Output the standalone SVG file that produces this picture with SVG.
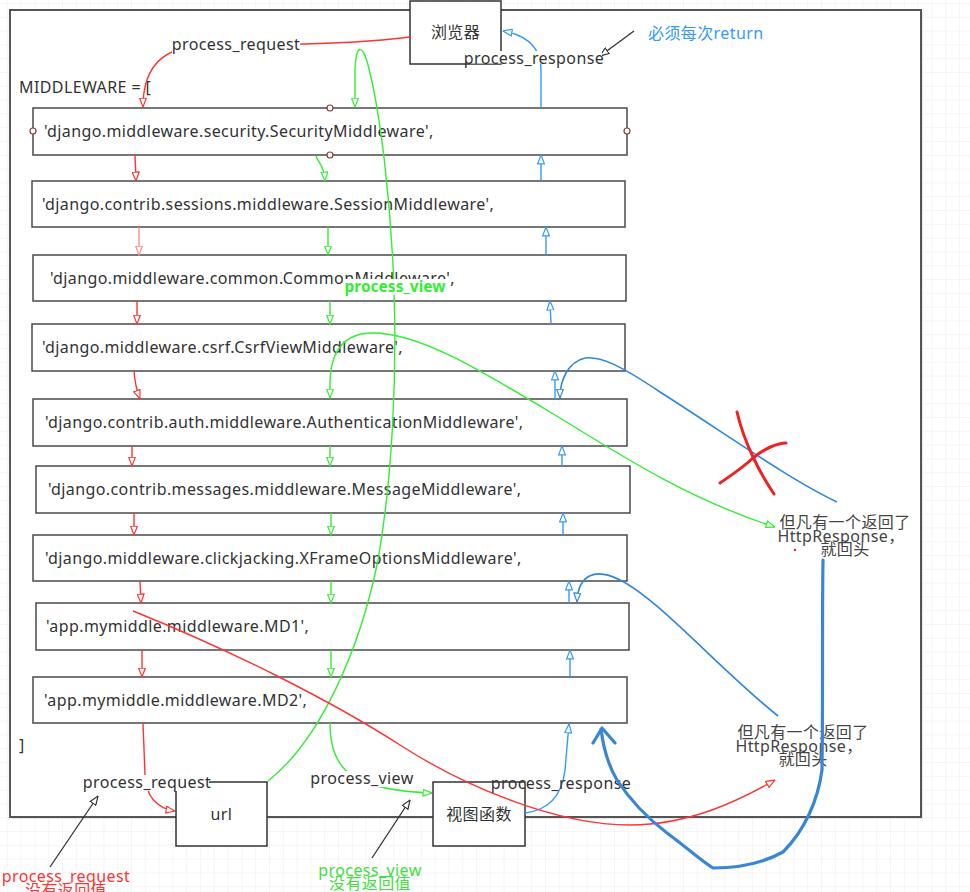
<svg xmlns="http://www.w3.org/2000/svg" width="970" height="892" viewBox="0 0 970 892">
<defs>
<pattern id="gridp" patternUnits="userSpaceOnUse" x="6.8" y="3" width="13.8" height="13.8">
<path d="M0,0 H13.8 M0,0 V13.8" fill="none" stroke="#ececec" stroke-width="1"/>
</pattern>
<marker id="aR" viewBox="0 0 10 8" refX="9.5" refY="4" markerWidth="10" markerHeight="8" markerUnits="userSpaceOnUse" orient="auto"><path d="M0.6,0.6 L9.4,4 L0.6,7.4 Z" fill="#fff" stroke="#ff3333" stroke-width="1.2"/></marker>
<marker id="aRl" viewBox="0 0 10 8" refX="9.5" refY="4" markerWidth="10" markerHeight="8" markerUnits="userSpaceOnUse" orient="auto"><path d="M0.6,0.6 L9.4,4 L0.6,7.4 Z" fill="#fff" stroke="#ff8a8a" stroke-width="1.2"/></marker>
<marker id="aG" viewBox="0 0 10 8" refX="9.5" refY="4" markerWidth="10" markerHeight="8" markerUnits="userSpaceOnUse" orient="auto"><path d="M0.6,0.6 L9.4,4 L0.6,7.4 Z" fill="#fff" stroke="#33ee33" stroke-width="1.2"/></marker>
<marker id="aGs" viewBox="0 0 10 8" refX="9.5" refY="4" markerWidth="10" markerHeight="8" markerUnits="userSpaceOnUse" orient="auto-start-reverse"><path d="M0.6,0.6 L9.4,4 L0.6,7.4 Z" fill="#fff" stroke="#33ee33" stroke-width="1.2"/></marker>
<marker id="aB" viewBox="0 0 10 8" refX="9.5" refY="4" markerWidth="10" markerHeight="8" markerUnits="userSpaceOnUse" orient="auto"><path d="M0.6,0.6 L9.4,4 L0.6,7.4 Z" fill="#fff" stroke="#3399ff" stroke-width="1.2"/></marker>
<marker id="aB2" viewBox="0 0 10 8" refX="9.5" refY="4" markerWidth="10" markerHeight="8" markerUnits="userSpaceOnUse" orient="auto"><path d="M0.6,0.6 L9.4,4 L0.6,7.4 Z" fill="#fff" stroke="#2e86de" stroke-width="1.2"/></marker>
<marker id="aK" viewBox="0 0 10 8" refX="9.5" refY="4" markerWidth="10" markerHeight="8" markerUnits="userSpaceOnUse" orient="auto"><path d="M0.6,0.6 L9.4,4 L0.6,7.4 Z" fill="#fff" stroke="#333" stroke-width="1.2"/></marker>
</defs>
<style>
text{font-family:"Noto Sans","Noto Sans CJK SC",sans-serif;font-size:16px;letter-spacing:0.4px;fill:#333}
.row{fill:#fff;stroke:#4a4a4a;stroke-width:1.5}
.box{fill:#fff;stroke:#333;stroke-width:1.5}
.mid{text-anchor:middle}
.r{fill:none;stroke:#ff3333;stroke-width:1.4}
.rl{fill:none;stroke:#ff8a8a;stroke-width:1.4}
.g{fill:none;stroke:#33ee33;stroke-width:1.4}
.b{fill:none;stroke:#3399ff;stroke-width:1.4}
.b2{fill:none;stroke:#2e86de;stroke-width:1.6}
.k{fill:none;stroke:#333;stroke-width:1.3}
.hand{fill:none;stroke:#3a85d4;stroke-width:3.2;stroke-linecap:round;stroke-linejoin:round}
.x{fill:none;stroke:#ee2222;stroke-width:3;stroke-linecap:round;stroke-linejoin:round}
.lbg{fill:#fff}
.handle{fill:#fff;stroke:#8b3a3a;stroke-width:1.2}
.note{fill:#444;text-anchor:middle}
</style>
<rect id="grid" x="0" y="0" width="970" height="892" fill="url(#gridp)"/>
<g id="frame">
<rect x="11.5" y="11.5" width="911" height="807" fill="#aaa" opacity="0.5"/>
<rect x="10" y="10" width="911" height="807" fill="#fff" stroke="#555" stroke-width="2"/>
<text x="19" y="93">MIDDLEWARE = [</text>
<text x="19" y="751">]</text>
</g>
<g id="row1"><rect class="row" x="33" y="108" width="594" height="47"/><text x="44" y="137">'django.middleware.security.SecurityMiddleware',</text></g>
<g id="row2"><rect class="row" x="32" y="181" width="593" height="46"/><text x="42" y="210">'django.contrib.sessions.middleware.SessionMiddleware',</text></g>
<g id="row3"><rect class="row" x="33" y="255" width="593" height="46"/><text x="50" y="284">'django.middleware.common.CommonMiddleware',</text></g>
<g id="row4"><rect class="row" x="32" y="324" width="593" height="47"/><text x="42" y="353">'django.middleware.csrf.CsrfViewMiddleware',</text></g>
<g id="row5"><rect class="row" x="33" y="399" width="594" height="47"/><text x="45" y="428">'django.contrib.auth.middleware.AuthenticationMiddleware',</text></g>
<g id="row6"><rect class="row" x="36" y="466" width="594" height="47"/><text x="48" y="495">'django.contrib.messages.middleware.MessageMiddleware',</text></g>
<g id="row7"><rect class="row" x="33" y="535" width="594" height="46"/><text x="45" y="564">'django.middleware.clickjacking.XFrameOptionsMiddleware',</text></g>
<g id="row8"><rect class="row" x="36" y="603" width="593" height="47"/><text x="46" y="632">'app.mymiddle.middleware.MD1',</text></g>
<g id="row9"><rect class="row" x="33" y="677" width="594" height="46"/><text x="44" y="706">'app.mymiddle.middleware.MD2',</text></g>
<g id="url"><rect class="box" x="176" y="782" width="91" height="64"/><text class="mid" x="221.5" y="820">url</text></g>
<g id="view"><rect class="box" x="433" y="782" width="92" height="64"/><text class="mid" x="479" y="820">视图函数</text></g>
<g id="browser"><rect class="box" x="410" y="1" width="91" height="63"/><text class="mid" x="455.5" y="38">浏览器</text></g>
<g id="connectors">
<path class="r" d="M410,37 C330,47 220,44 190,47 C155,52 143,75 143,107" marker-end="url(#aR)"/>
<path class="g" d="M268,781 C320,740 360,650 378,560 C392,480 397,380 394,290 C391,200 380,110 368,65 C362,42 356,45 355,70 L355,107" marker-end="url(#aG)"/>
<path class="b" d="M541,108 L541,70 C541,50 530,36 503,31" marker-end="url(#aB)"/>
<line class="r" x1="135" y1="155" x2="136" y2="181" marker-end="url(#aR)"/>
<line class="rl" x1="139" y1="227" x2="139" y2="255" marker-end="url(#aRl)"/>
<line class="r" x1="137" y1="301" x2="137" y2="324" marker-end="url(#aR)"/>
<path class="r" d="M134,371 Q135,386 140,399" marker-end="url(#aR)"/>
<line class="r" x1="132" y1="446" x2="132" y2="466" marker-end="url(#aR)"/>
<line class="r" x1="134" y1="513" x2="134" y2="535" marker-end="url(#aR)"/>
<line class="r" x1="140" y1="581" x2="141" y2="603" marker-end="url(#aR)"/>
<line class="r" x1="142" y1="650" x2="142" y2="677" marker-end="url(#aR)"/>
<path class="g" d="M316,156 C318,163 324,164 325,181" marker-end="url(#aG)"/>
<line class="g" x1="328" y1="227" x2="328" y2="255" marker-end="url(#aG)"/>
<line class="g" x1="330" y1="301" x2="330" y2="324" marker-end="url(#aG)"/>
<path class="g" d="M330,398 L330,385 C330,350 345,333 373,333 C420,333 480,370 560,418 C620,455 690,500 775,527" marker-start="url(#aGs)" marker-end="url(#aG)"/>
<line class="g" x1="330" y1="446" x2="330" y2="466" marker-end="url(#aG)"/>
<line class="g" x1="331" y1="513" x2="331" y2="535" marker-end="url(#aG)"/>
<line class="g" x1="331" y1="581" x2="331" y2="603" marker-end="url(#aG)"/>
<line class="g" x1="331" y1="650" x2="331" y2="677" marker-end="url(#aG)"/>
<line class="b" x1="541" y1="181" x2="541" y2="155" marker-end="url(#aB)"/>
<line class="b" x1="546" y1="255" x2="546" y2="227" marker-end="url(#aB)"/>
<line class="b" x1="551" y1="324" x2="550" y2="301" marker-end="url(#aB)"/>
<line class="b" x1="555" y1="399" x2="555" y2="371" marker-end="url(#aB)"/>
<line class="b" x1="562" y1="466" x2="562" y2="446" marker-end="url(#aB)"/>
<line class="b" x1="563" y1="535" x2="563" y2="513" marker-end="url(#aB)"/>
<line class="b" x1="569" y1="603" x2="569" y2="581" marker-end="url(#aB)"/>
<line class="b" x1="570" y1="677" x2="570" y2="650" marker-end="url(#aB)"/>
<path class="b2" d="M837,502 C790,480 720,430 660,392 C620,365 600,356 585,358 C568,362 560,380 560,398" marker-end="url(#aB2)"/>
<path class="b2" d="M778,716 C720,670 660,600 620,580 C595,567 578,575 577,602" marker-end="url(#aB2)"/>
<path class="r" d="M143,723 L145,775 C146,795 155,808 175,811" marker-end="url(#aR)"/>
<path class="g" d="M330,723 C330,745 335,765 355,778 C375,788 400,792 432,793" marker-end="url(#aG)"/>
<path class="b" d="M525,813 C550,810 562,795 565,770 L569,724" marker-end="url(#aB)"/>
<path class="r" d="M133,611 C230,650 330,700 400,745 C470,790 560,825 630,825 C690,825 740,800 775,780" marker-end="url(#aR)"/>
<line class="k" x1="634" y1="31" x2="600" y2="56" marker-end="url(#aK)"/>
<line class="k" x1="50" y1="867" x2="98" y2="796" marker-end="url(#aK)"/>
<line class="k" x1="372" y1="858" x2="410" y2="800" marker-end="url(#aK)"/>
</g>
<g id="labels">
<rect class="lbg" x="172" y="37" width="128" height="17"/>
<text class="mid" x="236" y="50">process_request</text>
<rect class="lbg" x="468" y="51" width="134" height="12.5"/>
<text class="mid" x="534" y="64">process_response</text>
<rect class="lbg" x="344" y="279" width="103" height="16"/>
<text class="mid" x="395" y="292" style="fill:#33ee33;font-weight:bold;font-size:15.5px;letter-spacing:0">process_view</text>
<rect class="lbg" x="84" y="775" width="125" height="16"/>
<text class="mid" x="147" y="788">process_request</text>
<rect class="lbg" x="311" y="771" width="103" height="16"/>
<text class="mid" x="362" y="784">process_view</text>
<text class="mid" x="561" y="789">process_response</text>
<text x="648" y="39" style="fill:#3399ff">必须每次return</text>
<text class="mid" x="66" y="882" style="fill:#ff3333">process_request</text>
<text class="mid" x="66" y="896" style="fill:#ff3333">没有返回值</text>
<text class="mid" x="370" y="876" style="fill:#44dd44">process_view</text>
<text class="mid" x="370" y="889" style="fill:#44dd44">没有返回值</text>
</g>
<g id="note1">
<text class="note" x="845" y="528">但凡有一个返回了</text>
<text class="note" x="841" y="542">HttpResponse，</text>
<text class="note" x="845" y="555">就回头</text>
</g>
<g id="note2">
<text class="note" x="803" y="738">但凡有一个返回了</text>
<text class="note" x="799" y="752">HttpResponse，</text>
<text class="note" x="803" y="765">就回头</text>
</g>
<g id="handles">
<circle class="handle" cx="330" cy="108" r="3"/>
<circle class="handle" cx="330" cy="155" r="3"/>
<circle class="handle" cx="33" cy="131" r="3"/>
<circle class="handle" cx="627" cy="131" r="3"/>
</g>
<g id="scribbles">
<path class="hand" d="M823,560 C822,620 823,700 822,770 C818,800 805,830 783,852 C765,862 740,868 713,868 C700,860 690,850 667,833 C650,820 630,800 617,780 C608,765 603,745 601,729 M593,743 L602,728 L615,743"/>
<path class="x" d="M737,412 C740,425 745,440 753,457 C760,472 768,485 774,494"/>
<path class="x" d="M720,483 C727,478 740,470 753,458 C765,448 778,443 786,443"/>
<circle cx="795" cy="550" r="1.2" fill="#ee2222"/>
</g>
</svg>
